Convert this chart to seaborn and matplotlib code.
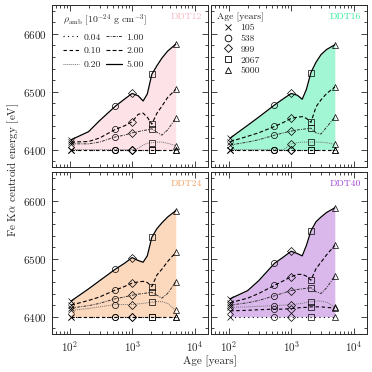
import numpy as np
import pandas as pd
import matplotlib
matplotlib.use("Agg")
import matplotlib.pyplot as plt
from matplotlib.lines import Line2D
from matplotlib.ticker import MultipleLocator
import seaborn as sns

sns.set_style("ticks")
plt.rcParams['font.family'] = ['cmr10', 'DejaVu Serif']
plt.rcParams['mathtext.fontset'] = 'cm'
plt.rcParams['axes.formatter.use_mathtext'] = True
plt.rcParams['axes.unicode_minus'] = False

# ages where the curves are sampled [years]
ages = [105, 200, 300, 538, 750, 999, 1250, 1500, 1750, 2067, 2500, 3000, 3700, 5000]
# ages with markers
mark_ages = [105, 538, 999, 2067, 5000]
mark_idx = [0, 3, 5, 9, 13]
mark_syms = ['x', 'o', 'D', 's', '^']

dens_labels = ['0.04', '0.10', '0.20', '1.00', '2.00', '5.00']

# Fe K-alpha centroid energy [eV], one list per ambient density
ddt12 = {
    '0.04': [6400] * 14,
    '0.10': [6400] * 14,
    '0.20': [6400, 6400, 6400, 6400, 6400, 6400, 6402, 6408, 6411, 6412, 6413, 6413, 6411, 6407],
    '1.00': [6410, 6410, 6413, 6422, 6425, 6429, 6431, 6433, 6434, 6436, 6430, 6425, 6434, 6454],
    '2.00': [6413, 6414, 6420, 6435, 6441, 6448, 6461, 6463, 6456, 6444, 6463, 6475, 6490, 6504],
    '5.00': [6417, 6431, 6450, 6475, 6487, 6497, 6493, 6484, 6496, 6530, 6545, 6558, 6570, 6582],
}
ddt16 = {
    '0.04': [6400] * 14,
    '0.10': [6400] * 14,
    '0.20': [6400, 6400, 6400, 6400, 6400, 6410, 6412, 6413, 6413, 6413, 6413, 6413, 6412, 6409],
    '1.00': [6408, 6413, 6417, 6425, 6429, 6432, 6434, 6435, 6436, 6437, 6429, 6427, 6439, 6456],
    '2.00': [6414, 6423, 6429, 6440, 6447, 6454, 6456, 6457, 6454, 6447, 6474, 6486, 6497, 6508],
    '5.00': [6420, 6442, 6456, 6477, 6488, 6497, 6494, 6487, 6504, 6533, 6551, 6564, 6573, 6581],
}
ddt24 = {
    '0.04': [6400] * 14,
    '0.10': [6400] * 14,
    '0.20': [6411, 6414, 6417, 6421, 6421, 6421, 6422, 6423, 6424, 6425, 6426, 6426, 6423, 6411],
    '1.00': [6415, 6419, 6423, 6431, 6434, 6437, 6439, 6440, 6441, 6442, 6437, 6432, 6440, 6460],
    '2.00': [6420, 6428, 6434, 6446, 6452, 6458, 6460, 6461, 6459, 6452, 6472, 6482, 6495, 6511],
    '5.00': [6427, 6448, 6462, 6482, 6492, 6502, 6497, 6494, 6505, 6537, 6552, 6562, 6572, 6583],
}
ddt40 = {
    '0.04': [6400] * 14,
    '0.10': [6410, 6411, 6412, 6413, 6413, 6414, 6415, 6416, 6416, 6417, 6417, 6417, 6416, 6415],
    '0.20': [6416, 6417, 6418, 6419, 6420, 6421, 6422, 6423, 6425, 6426, 6427, 6427, 6425, 6416],
    '1.00': [6420, 6424, 6428, 6436, 6441, 6445, 6447, 6448, 6449, 6450, 6443, 6440, 6450, 6470],
    '2.00': [6424, 6432, 6440, 6454, 6462, 6469, 6473, 6473, 6470, 6463, 6483, 6494, 6507, 6523],
    '5.00': [6431, 6445, 6462, 6492, 6503, 6513, 6509, 6505, 6523, 6548, 6564, 6572, 6580, 6588],
}

models = ['DDT12', 'DDT16', 'DDT24', 'DDT40']
model_data = [ddt12, ddt16, ddt24, ddt40]
fill_cols = ['#fde2e8', '#a3f6d3', '#fcd8bd', '#dbb8ec']
text_cols = ['#f8b6c4', '#35ec9e', '#f7a466', '#a64ad8']

styles = {
    '0.04': dict(ls=(0, (1, 3)), lw=0.8, color='k'),
    '0.10': dict(ls=(0, (3, 2.5)), lw=0.8, color='k'),
    '0.20': dict(ls=(0, (1, 1)), lw=0.7, color='0.45'),
    '1.00': dict(ls=(0, (3, 1.2, 1, 1.2)), lw=0.7, color='0.2'),
    '2.00': dict(ls=(0, (3.5, 2)), lw=0.8, color='k'),
    '5.00': dict(ls='-', lw=0.9, color='k'),
}

fig, axes = plt.subplots(2, 2, sharex=True, sharey=True, figsize=(3.72, 3.72), dpi=100)
plt.subplots_adjust(left=0.14, right=0.987, top=0.987, bottom=0.102, wspace=0.02, hspace=0.03)

for ax, name, data, fc, tc in zip(axes.flat, models, model_data, fill_cols, text_cols):
    ax.fill_between(ages, data['0.04'], data['5.00'], color=fc, lw=0, zorder=0)
    for d in dens_labels:
        st = styles[d]
        df = pd.DataFrame({'age': ages, 'E': data[d]})
        sns.lineplot(data=df, x='age', y='E', ax=ax, color=st['color'],
                     linestyle=st['ls'], lw=st['lw'], zorder=2)
        for i, m in zip(mark_idx, mark_syms):
            ax.plot(ages[i], data[d][i], marker=m, ms=4.4 if m != 'D' else 3.8,
                    mfc='none', mec='k', mew=0.5, ls='none', zorder=3)
    ax.text(0.96, 0.955, name, transform=ax.transAxes, ha='right', va='top',
            color=tc, fontsize=7)
    ax.set_xscale('log')
    ax.set_xlim(52, 1.65e4)
    ax.set_ylim(6370, 6650)
    ax.yaxis.set_major_locator(MultipleLocator(100))
    ax.yaxis.set_minor_locator(MultipleLocator(20))
    ax.tick_params(which='both', direction='in', top=True, right=True, width=0.6,
                   labelsize=8)
    ax.tick_params(which='major', length=4)
    ax.tick_params(which='minor', length=2)
    ax.set_xlabel('')
    ax.set_ylabel('')
    for sp in ax.spines.values():
        sp.set_linewidth(0.7)

# density legend
hd = [Line2D([0], [0], color=styles[d]['color'], ls=styles[d]['ls'], lw=styles[d]['lw'])
      for d in dens_labels]
leg1 = axes[0, 0].legend(hd, dens_labels, ncol=2, loc='upper left', frameon=False,
                         fontsize=7, title=r'$\rho_{\rm amb}$ [$10^{-24}$ g cm$^{-3}$]',
                         title_fontsize=7, alignment='left', handlelength=1.7,
                         labelspacing=0.5, columnspacing=0.5,
                         bbox_to_anchor=(0.03, 0.99), borderaxespad=0.2,
                         handletextpad=0.45)

# age legend
hm = [Line2D([0], [0], marker=m, ls='none', mfc='none', mec='k', mew=0.6,
             ms=4.8 if m != 'D' else 4.2) for m in mark_syms]
leg2 = axes[0, 1].legend(hm, [str(a) for a in mark_ages], loc='upper left', frameon=False,
                         fontsize=7, title='Age [years]', title_fontsize=7,
                         alignment='left', handlelength=2.2, labelspacing=0.2,
                         bbox_to_anchor=(0.0, 0.99), borderaxespad=0.2,
                         handletextpad=0.2)

fig.text(0.035, 0.544, r'Fe K$\alpha$ centroid energy [eV]', rotation=90,
         ha='center', va='center', fontsize=8)
fig.text(0.563, 0.028, 'Age [years]', ha='center', va='center', fontsize=8)

fig.savefig('out.png', dpi=100)
